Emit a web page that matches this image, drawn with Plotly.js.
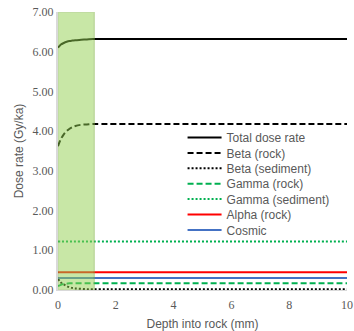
<!DOCTYPE html>
<html>
<head>
<meta charset="utf-8">
<script src="https://cdn.plot.ly/plotly-3.0.1.min.js"></script>
<style>html,body{margin:0;padding:0;background:#fff}#chart{width:354px;height:331px}</style>
</head>
<body>
<div id="chart"></div>
<script>
const depth = [0, 0.1, 0.2, 0.3, 0.4, 0.5, 0.6, 0.8, 1.0, 1.2, 1.5, 2, 3, 4, 5, 6, 7, 8, 9, 10];
const totalDose = [6.10, 6.18, 6.22, 6.25, 6.27, 6.28, 6.29, 6.30, 6.31, 6.32, 6.32, 6.32, 6.32, 6.32, 6.32, 6.32, 6.32, 6.32, 6.32, 6.32];
const betaRock = [3.62, 3.80, 3.92, 4.00, 4.06, 4.10, 4.13, 4.16, 4.17, 4.18, 4.18, 4.18, 4.18, 4.18, 4.18, 4.18, 4.18, 4.18, 4.18, 4.18];
const betaSediment = [0.28, 0.19, 0.14, 0.10, 0.07, 0.05, 0.04, 0.03, 0.02, 0.02, 0.02, 0.02, 0.02, 0.02, 0.02, 0.02, 0.02, 0.02, 0.02, 0.02];
const gammaRock = [0.10, 0.13, 0.15, 0.16, 0.17, 0.17, 0.17, 0.17, 0.17, 0.17, 0.17, 0.17, 0.17, 0.17, 0.17, 0.17, 0.17, 0.17, 0.17, 0.17];
const gammaSediment = [1.22, 1.22, 1.22, 1.22, 1.22, 1.22, 1.22, 1.22, 1.22, 1.22, 1.22, 1.22, 1.22, 1.22, 1.22, 1.22, 1.22, 1.22, 1.22, 1.22];
const alphaRock = [0.45, 0.45, 0.45, 0.45, 0.45, 0.45, 0.45, 0.45, 0.45, 0.45, 0.45, 0.45, 0.45, 0.45, 0.45, 0.45, 0.45, 0.45, 0.45, 0.45];
const cosmic = [0.30, 0.30, 0.30, 0.30, 0.30, 0.30, 0.30, 0.30, 0.30, 0.30, 0.30, 0.30, 0.30, 0.30, 0.30, 0.30, 0.30, 0.30, 0.30, 0.30];
const seriesNames = ['Total dose rate', 'Beta (rock)', 'Beta (sediment)', 'Gamma (rock)', 'Gamma (sediment)', 'Alpha (rock)', 'Cosmic'];
const shadedDepth = [0, 1.25];

const series = [totalDose, betaRock, betaSediment, gammaRock, gammaSediment, alphaRock, cosmic];
const colors = ['#000000', '#000000', '#000000', '#00b050', '#00b050', '#ff0000', '#4472c4'];
const dashes = ['solid', '6px,3px', '2px,2px', '6px,3px', '2px,2px', 'solid', 'solid'];

const legendFont = {family: 'Liberation Sans', size: 12, color: '#595959'};
const tickFont = {family: "'Liberation Serif', 'Times New Roman', serif", size: 12, color: '#595959'};
const legendTop = 0.5486, legendStep = 0.0554;

const traces = series.map((ys, i) => ({
  x: depth, y: ys, name: seriesNames[i], type: 'scatter', mode: 'lines',
  legend: i === 0 ? 'legend' : 'legend' + (i + 1),
  line: {color: colors[i], width: 2, dash: dashes[i], shape: 'spline'}
}));

const layout = {
  width: 354, height: 331,
  margin: {l: 58, r: 7, t: 12, b: 41},
  paper_bgcolor: '#fff', plot_bgcolor: '#fff',
  showlegend: true,
  xaxis: {range: [0, 10], dtick: 2, showgrid: false, zeroline: false, showline: true, linecolor: '#d9d9d9', linewidth: 1,
    ticks: '', ticklabelstandoff: 4, tickfont: tickFont,
    title: {text: 'Depth into rock (mm)', font: {family: 'Liberation Sans', size: 12, color: '#595959'}, standoff: 8}},
  yaxis: {range: [0, 7], dtick: 1, tickformat: '.2f', showgrid: false, zeroline: false, showline: true, linecolor: '#d9d9d9', linewidth: 2,
    ticks: '', tickfont: tickFont,
    title: {text: 'Dose rate (Gy/ka)', font: {family: 'Liberation Sans', size: 12, color: '#595959'}, standoff: 6}},
  shapes: [{type: 'rect', xref: 'x', yref: 'y', x0: shadedDepth[0], x1: shadedDepth[1], y0: 0, y1: 7,
    fillcolor: '#92d050', opacity: 0.5, line: {color: '#7fb342', width: 1.5}, layer: 'above'}]
};
seriesNames.forEach((n, i) => {
  const key = i === 0 ? 'legend' : 'legend' + (i + 1);
  layout[key] = {x: 0.431, y: legendTop - i * legendStep, xanchor: 'left', yanchor: 'middle',
    bgcolor: 'rgba(0,0,0,0)', borderwidth: 0, itemwidth: 34, font: legendFont};
});

Plotly.newPlot('chart', traces, layout, {displayModeBar: false, staticPlot: true});
</script>
</body>
</html>
